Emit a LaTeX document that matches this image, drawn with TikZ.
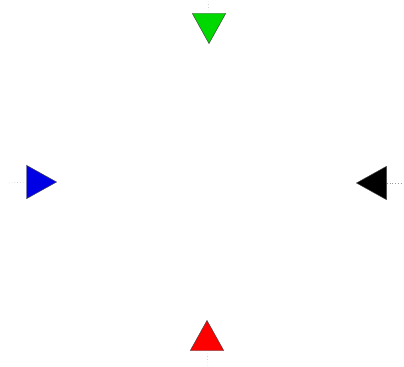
\documentclass[tikz,border=0pt]{standalone}
\usetikzlibrary{shapes.geometric}

\begin{document}
\begin{tikzpicture}[
  x=0.03cm, y=-0.03cm,
  head/.style={draw=black!75, thin, isosceles triangle, isosceles triangle apex angle=56, isosceles triangle stretches, inner sep=0pt, minimum width=1.0cm, minimum height=0.9cm},
  stub/.style={dotted, gray!80, thin}
]
  \useasboundingbox (0,0) rectangle (404,366);

  % the four heads, each pointing in to the middle
  \node[head, fill=green!85!black, shape border rotate=270, anchor=apex] (top) at (209,44) {};
  \node[head, fill=blue!90!black, shape border rotate=0, anchor=apex] (left) at (57,182) {};
  \node[head, fill=black, shape border rotate=180, anchor=apex] (right) at (356,183) {};
  \node[head, fill=red, shape border rotate=90, anchor=apex] (bottom) at (207,320) {};

  % short dotted tails
  \coordinate (topend) at (208,0);
  \coordinate (leftend) at (8,183);
  \coordinate (rightend) at (402,183);
  \coordinate (bottomend) at (208,366);
  \draw[stub] (top.lower side) -- (topend);
  \draw[stub] (left.lower side) -- (leftend);
  \draw[stub] (right.lower side) -- (rightend);
  \draw[stub] (bottom.lower side) -- (bottomend);
\end{tikzpicture}
\end{document}
